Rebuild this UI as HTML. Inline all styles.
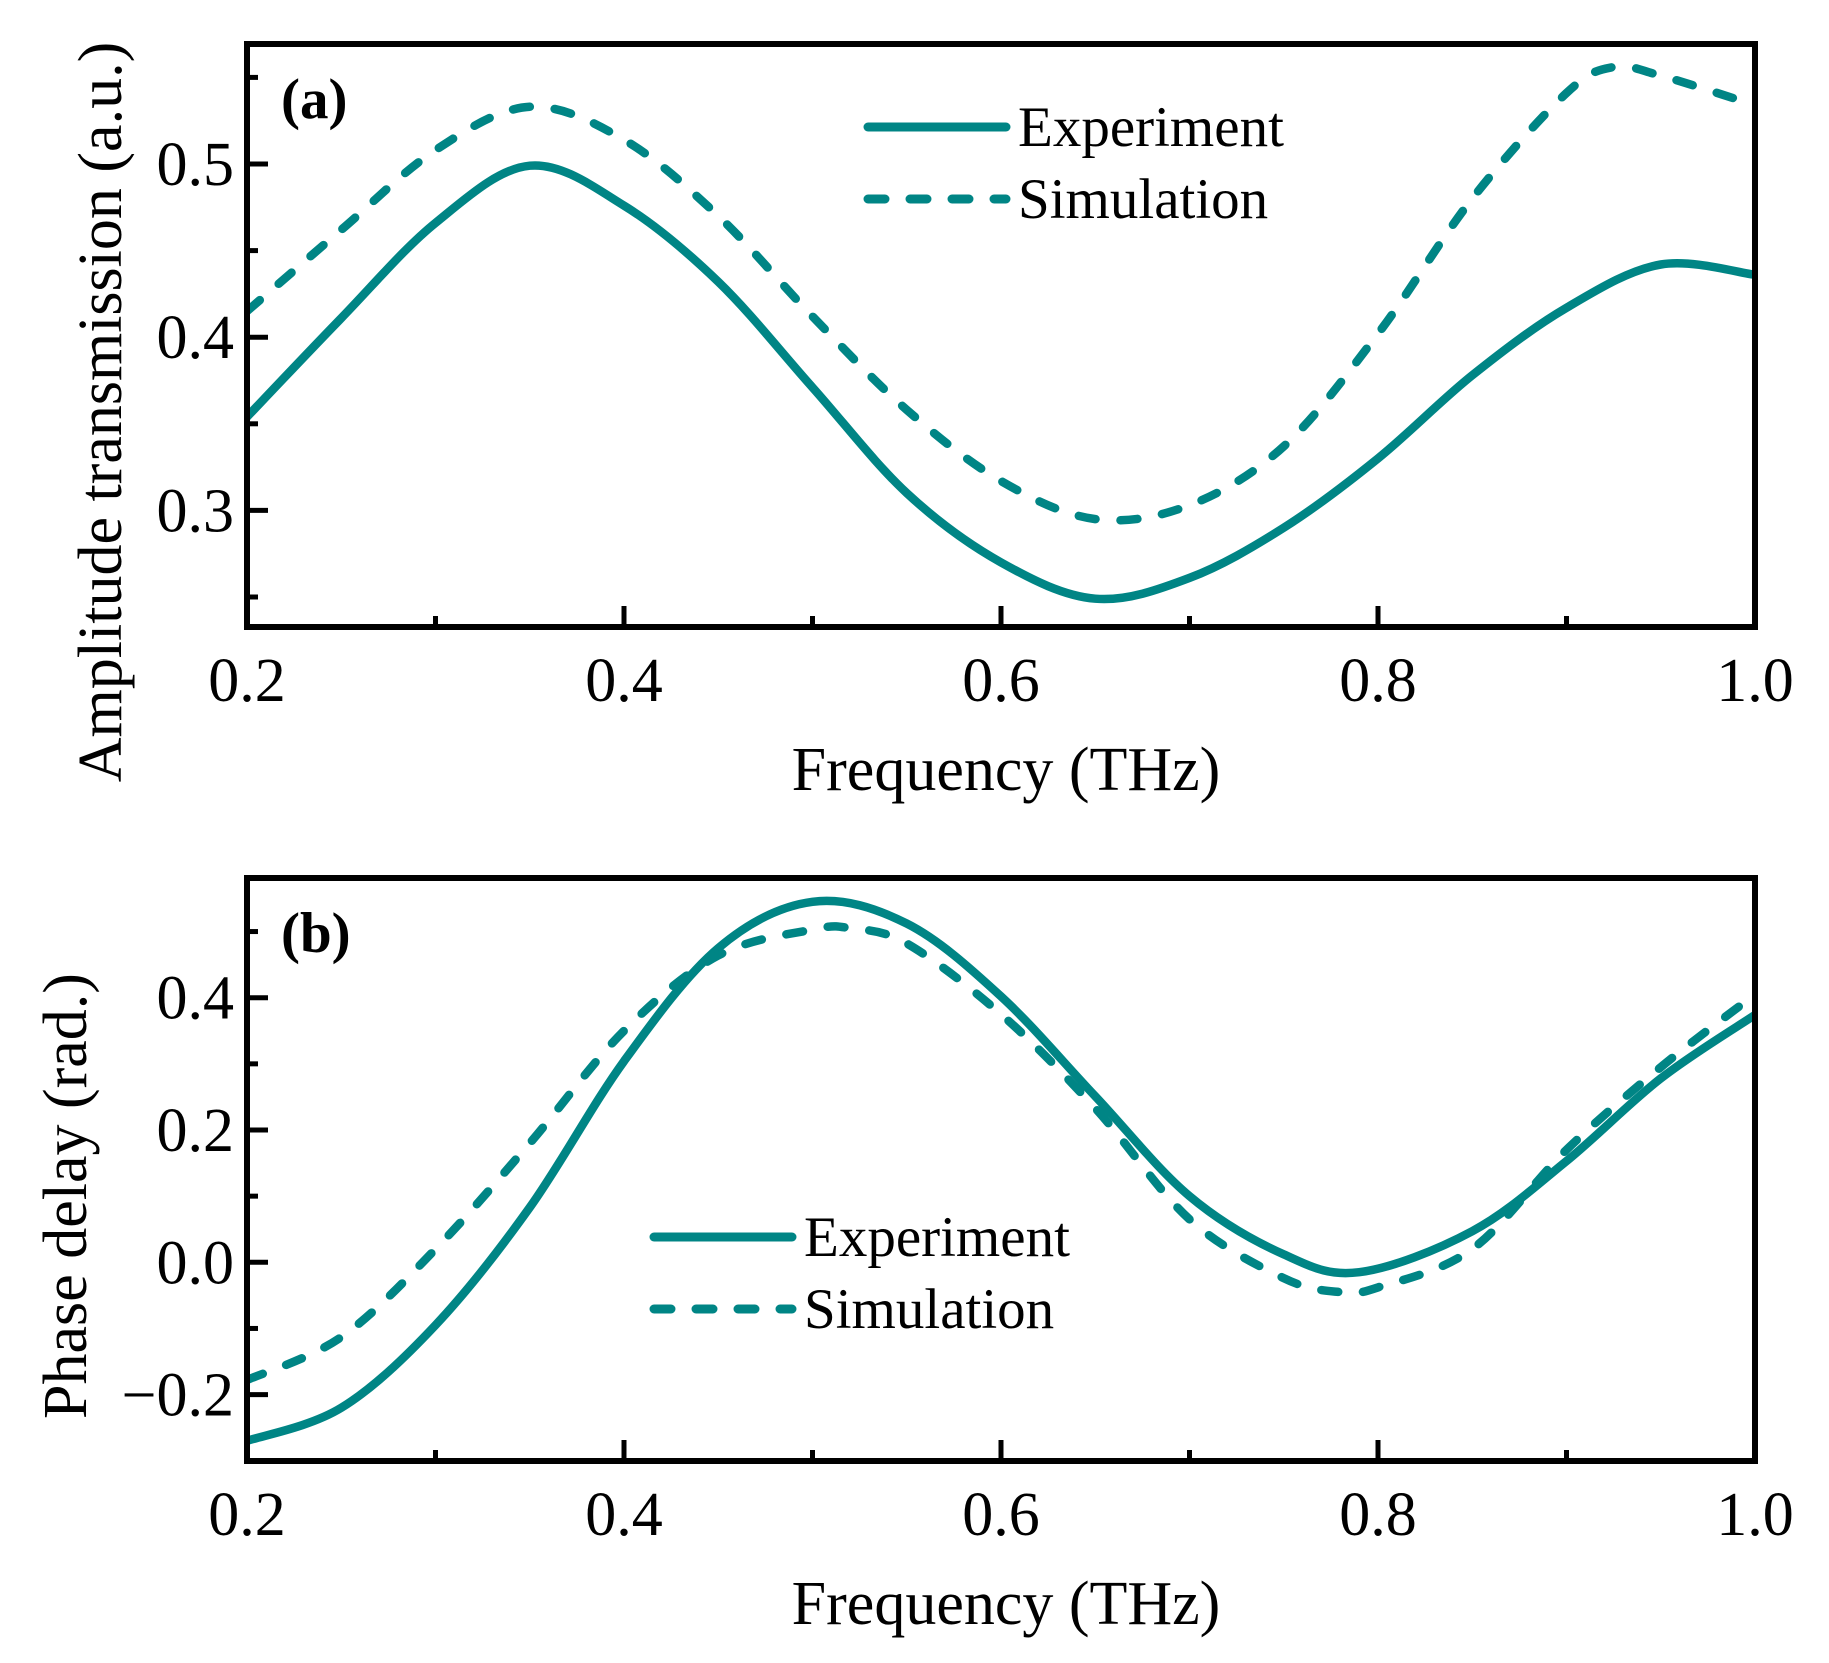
<!DOCTYPE html>
<html><head><meta charset="utf-8"><style>
html,body{margin:0;padding:0;background:#fff;}
svg{display:block;font-family:"Liberation Serif",serif;}
</style></head><body>
<svg id="fig" width="1829" height="1663" viewBox="0 0 1829 1663" xmlns="http://www.w3.org/2000/svg">
<rect width="1829" height="1663" fill="#fff"/>
</svg>
<script>
// Shared frequency axis (THz)
const freqA = [0.2,0.25,0.3,0.35,0.4,0.45,0.5,0.55,0.6,0.65,0.7,0.75,0.8,0.85,0.9,0.95,1.0];
const ampExp = [0.354,0.411,0.466,0.499,0.476,0.432,0.371,0.310,0.270,0.249,0.261,0.290,0.330,0.378,0.417,0.442,0.436];
const freqAS = [0.2,0.25,0.3,0.35,0.4,0.45,0.5,0.55,0.6,0.65,0.7,0.75,0.8,0.85,0.9,0.925,0.95,1.0];
const ampSim = [0.415,0.462,0.508,0.533,0.514,0.470,0.412,0.358,0.317,0.295,0.303,0.337,0.402,0.480,0.541,0.556,0.551,0.534];
const freqB = [0.2,0.25,0.3,0.35,0.4,0.45,0.5,0.55,0.6,0.65,0.7,0.75,0.79,0.85,0.9,0.95,1.0];
const phaseExp = [-0.27,-0.22,-0.095,0.083,0.304,0.475,0.545,0.512,0.402,0.251,0.100,0.012,-0.015,0.047,0.153,0.278,0.374];
const freqBS = [0.2,0.25,0.3,0.35,0.4,0.45,0.5,0.52,0.55,0.6,0.65,0.7,0.75,0.78,0.8,0.85,0.9,0.95,1.0];
const phaseSim = [-0.178,-0.113,0.02,0.18,0.35,0.464,0.503,0.505,0.482,0.375,0.233,0.065,-0.024,-0.045,-0.038,0.02,0.17,0.295,0.405];
const xTicks = ["0.2","0.4","0.6","0.8","1.0"];
const yTicksA = ["0.3","0.4","0.5"];
const yTicksB = ["−0.2","0.0","0.2","0.4"];

const NS="http://www.w3.org/2000/svg";
const svg=document.getElementById('fig');
const COL="#008585";
function mk(tag,attrs,parent){const e=document.createElementNS(NS,tag);for(const k in attrs)e.setAttribute(k,attrs[k]);(parent||svg).appendChild(e);return e;}

const X0=247,X1=1755;
function xs(v){return X0+(v-0.2)/0.8*(X1-X0);}
function ysA(v){return 164-(v-0.5)*1732;}
function ysB(v){return 1262.3-v*661.5;}

function smoothPath(xa,ya,fx,fy){
  const p=xa.map((x,i)=>[fx(x),fy(ya[i])]);
  let d="M"+p[0][0].toFixed(1)+","+p[0][1].toFixed(1);
  for(let i=0;i<p.length-1;i++){
    const p0=p[i-1]||p[i],p1=p[i],p2=p[i+1],p3=p[i+2]||p[i+1];
    const c1=[p1[0]+(p2[0]-p0[0])/6,p1[1]+(p2[1]-p0[1])/6];
    const c2=[p2[0]-(p3[0]-p1[0])/6,p2[1]-(p3[1]-p1[1])/6];
    d+=" C"+c1[0].toFixed(1)+","+c1[1].toFixed(1)+" "+c2[0].toFixed(1)+","+c2[1].toFixed(1)+" "+p2[0].toFixed(1)+","+p2[1].toFixed(1);
  }
  return d;
}

function panel(top,bot,fy,yLabels,yMinorVals,tag,title,yTitle,yTitleX,yTitleY,series,legX,legY){
  const g=mk('g',{});
  
  
  const clipId='clip'+tag;
  const cp=mk('clipPath',{id:clipId},g);
  mk('rect',{x:X0,y:top,width:X1-X0,height:bot-top},cp);
  series.forEach(s=>{
    const p=mk('path',{d:smoothPath(s.x,s.y,xs,fy),fill:'none',stroke:COL,'stroke-width':8.5,'stroke-linecap':'round','clip-path':'url(#'+clipId+')'},g);
    if(s.dash)p.setAttribute('stroke-dasharray','17 25');
    
    
  });
  const fr=mk('rect',{x:X0,y:top,width:X1-X0,height:bot-top,fill:'none',stroke:'#000','stroke-width':6},g);
  
  
  for(let i=0;i<=8;i++){
    const v=0.2+i*0.1,x=xs(v),len=(i%2==0)?21:11;
    if(i>0&&i<8){const t=mk('line',{x1:x,x2:x,y1:bot,y2:bot-len,stroke:'#000','stroke-width':5},g);
    
    }
  }
  xTicks.forEach((lab,i)=>{
    const t=mk('text',{x:xs(parseFloat(lab)),y:bot+74,'font-size':62,'text-anchor':'middle'},g);
    t.textContent=lab;
    
    
  });
  yMinorVals.forEach(o=>{
    const y=fy(o.v);
    const t=mk('line',{x1:X0,x2:X0+(o.major?21:11),y1:y,y2:y,stroke:'#000','stroke-width':5},g);
    
    
  });
  yLabels.forEach(lab=>{
    const v=parseFloat(lab.replace('−','-'));
    const t=mk('text',{x:X0-13,y:fy(v)+21,'font-size':62,'text-anchor':'end'},g);
    t.textContent=lab;
    
    
  });
  const xt=mk('text',{x:1006,y:bot+163,'font-size':62,'text-anchor':'middle'},g);
  xt.textContent='Frequency (THz)';
  
  
  const yt=mk('text',{x:0,y:0,'font-size':62,'text-anchor':'middle',transform:'translate('+yTitleX+','+yTitleY+') rotate(-90)'},g);
  yt.textContent=yTitle;
  
  
  const pl=mk('text',{x:281,y:top+74,'font-size':57,'font-weight':'bold'},g);
  pl.textContent=title;
  
  
  const lg=mk('g',{},g);
  
  
  [['Experiment',false,0],['Simulation',true,72]].forEach(([n,dash,dy])=>{
    const l=mk('line',{x1:legX,x2:legX+138,y1:legY+dy,y2:legY+dy,stroke:COL,'stroke-width':9,'stroke-linecap':'round'},lg);
    if(dash)l.setAttribute('stroke-dasharray','17 25');
    
    
    const t=mk('text',{x:legX+150,y:legY+dy+19,'font-size':57},lg);
    t.textContent=n;
    
    
  });
}

const minorA=[];for(let k=0;k<7;k++){const v=0.25+k*0.05;minorA.push({v:v,major:(Math.round(v*100)%10===0)});}
panel(44,627,ysA,yTicksA,minorA,'a','(a)','Amplitude transmission (a.u.)',121,412,
 [{x:freqA,y:ampExp,name:'series-experiment-amplitude',dash:false},{x:freqAS,y:ampSim,name:'series-simulation-amplitude',dash:true}],868,127);
const minorB=[];for(let k=0;k<9;k++){const v=-0.3+k*0.1;minorB.push({v:v,major:(Math.round(v*10)%2===0)});}
panel(878,1461,ysB,yTicksB,minorB,'b','(b)','Phase delay (rad.)',86,1196,
 [{x:freqB,y:phaseExp,name:'series-experiment-phase',dash:false},{x:freqBS,y:phaseSim,name:'series-simulation-phase',dash:true}],654,1237);
</script>
</body></html>
